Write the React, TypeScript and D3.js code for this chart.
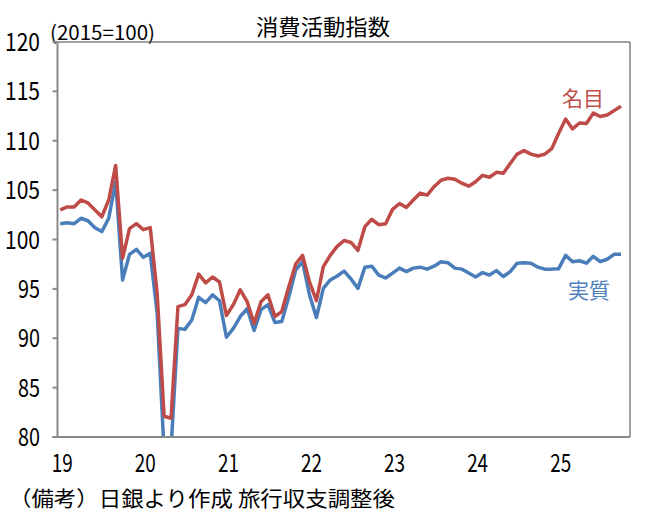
import React from "react";
import * as d3 from "d3";

// Monthly, Jan 2019 – Oct 2025 (2015=100)
const nominal: number[] = [
  // 2019
  103.0, 103.3, 103.3, 104.0, 103.7, 103.0, 102.3, 104.0, 107.5, 98.1, 101.1, 101.6,
  // 2020
  101.0, 101.2, 94.5, 82.1, 81.9, 93.2, 93.4, 94.4, 96.5, 95.6, 96.2, 95.7,
  // 2021
  92.3, 93.4, 94.9, 93.7, 91.5, 93.7, 94.4, 92.2, 92.7, 95.2, 97.5, 98.4,
  // 2022
  95.7, 93.8, 97.25, 98.4, 99.3, 99.9, 99.7, 98.9, 101.3, 102.05, 101.5, 101.6,
  // 2023
  103.05, 103.65, 103.25, 104.0, 104.7, 104.5, 105.35, 106.0, 106.2, 106.1, 105.7, 105.4,
  // 2024
  105.85, 106.5, 106.3, 106.8, 106.7, 107.7, 108.65, 109.0, 108.65, 108.45, 108.65, 109.2,
  // 2025
  110.75, 112.2, 111.2, 111.8, 111.75, 112.8, 112.45, 112.6, 113.05, 113.5,
];

const real: number[] = [
  // 2019
  101.6, 101.7, 101.6, 102.15, 101.9, 101.2, 100.8, 102.15, 105.85, 95.9, 98.5, 99.0,
  // 2020
  98.2, 98.6, 92.5, 78.5, 78.8, 91.0, 90.9, 91.85, 94.15, 93.6, 94.4, 93.8,
  // 2021
  90.1, 91.0, 92.2, 93.0, 90.8, 92.9, 93.4, 91.6, 91.7, 94.15, 96.9, 97.75,
  // 2022
  94.4, 92.1, 95.05, 95.9, 96.3, 96.8, 96.0, 95.05, 97.2, 97.3, 96.4, 96.1,
  // 2023
  96.6, 97.1, 96.75, 97.1, 97.2, 97.0, 97.3, 97.75, 97.65, 97.1, 97.0, 96.6,
  // 2024
  96.2, 96.65, 96.4, 96.85, 96.25, 96.75, 97.6, 97.65, 97.6, 97.2, 97.0, 97.0,
  // 2025
  97.05, 98.4, 97.75, 97.85, 97.6, 98.3, 97.75, 98.0, 98.5, 98.5,
];

const yearLabels: string[] = ["19", "20", "21", "22", "23", "24", "25"];
const yTicks: number[] = [80, 85, 90, 95, 100, 105, 110, 115, 120];

const title = "消費活動指数";
const unitLabel = "(2015=100)";
const note = "（備考）日銀より作成 旅行収支調整後";
const nominalLabel = "名目";
const realLabel = "実質";

const W = 648;
const H = 526;
const left = 57.5;
const right = 630;
const top = 42;
const bottom = 437;
const FONT = '"Noto Sans CJK JP", "Noto Sans", sans-serif';

const RED = "#be4b48";
const BLUE = "#4a7ebb";

export default function App() {
  const x = d3.scaleLinear().domain([-0.4, 82.3]).range([left, right]);
  const y = d3.scaleLinear().domain([80, 120]).range([bottom, top]);

  const line = d3
    .line<number>()
    .x((_, i) => x(i))
    .y((d) => y(d));

  return (
    <svg
      width={W}
      height={H}
      style={{ position: "absolute", left: 0, top: 0, background: "#fff" }}
      fontFamily={FONT}
    >
      <defs>
        <clipPath id="plot">
          <rect x={left} y={top} width={right - left} height={bottom - top} />
        </clipPath>
      </defs>
      <rect x={0} y={0} width={W} height={H} fill="#fff" />

      {/* title */}
      <text
        x={323 - 67}
        y={35}
        fontSize={22}
        textLength={134}
        lengthAdjust="spacingAndGlyphs"
        fill="#000"
      >
        {title}
      </text>
      <text
        x={50}
        y={40}
        fontSize={20}
        textLength={105}
        lengthAdjust="spacingAndGlyphs"
        fill="#000"
      >
        {unitLabel}
      </text>

      {/* plot frame */}
      <line x1={left} x2={right} y1={top} y2={top} stroke="#404040" strokeWidth={1} />
      <line x1={right} x2={right} y1={top} y2={bottom} stroke="#404040" strokeWidth={1} />

      {/* series */}
      <g clipPath="url(#plot)" fill="none" strokeWidth={3.5} strokeLinejoin="round">
        <path d={line(real) || ""} stroke={BLUE} />
        <path d={line(nominal) || ""} stroke={RED} />
      </g>

      {/* axes */}
      <line x1={left} x2={left} y1={top} y2={bottom} stroke="#898989" strokeWidth={2} />
      <line x1={left - 5} x2={right} y1={bottom} y2={bottom} stroke="#898989" strokeWidth={2} />
      {yTicks.map((t) => (
        <g key={t}>
          <line x1={left - 5} x2={left} y1={y(t)} y2={y(t)} stroke="#898989" strokeWidth={2} />
          <text
            x={40 - (t >= 100 ? 35 : 22)}
            y={y(t) + 9}
            fontSize={25}
            textLength={t >= 100 ? 35 : 22}
            lengthAdjust="spacingAndGlyphs"
            fill="#000"
          >
            {t}
          </text>
        </g>
      ))}
      {yearLabels.map((lab, k) => (
        <text
          key={lab}
          x={x(k * 12) + 2 - 10.5}
          y={472}
          fontSize={25}
          textLength={21}
          lengthAdjust="spacingAndGlyphs"
          fill="#000"
        >
          {lab}
        </text>
      ))}

      {/* series labels */}
      <text
        x={562}
        y={105.5}
        fontSize={21}
        textLength={42}
        lengthAdjust="spacingAndGlyphs"
        fill="#c0504d"
      >
        {nominalLabel}
      </text>
      <text
        x={568}
        y={298}
        fontSize={21}
        textLength={42}
        lengthAdjust="spacingAndGlyphs"
        fill="#4f81bd"
      >
        {realLabel}
      </text>

      {/* footnote */}
      <text
        x={9}
        y={506}
        fontSize={21}
        textLength={386}
        lengthAdjust="spacingAndGlyphs"
        fill="#000"
      >
        {note}
      </text>
    </svg>
  );
}
